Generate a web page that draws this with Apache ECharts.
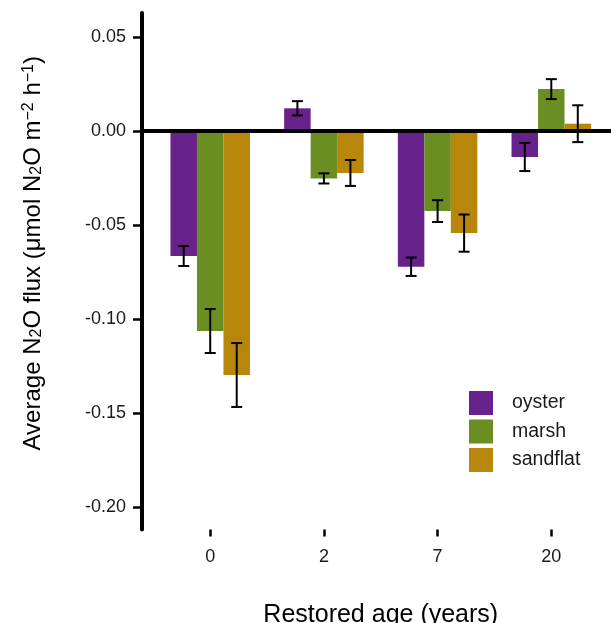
<!DOCTYPE html>
<html>
<head>
<meta charset="utf-8">
<script src="https://cdn.jsdelivr.net/npm/echarts@6/dist/echarts.min.js"></script>
<style>
html,body{margin:0;padding:0;background:#fff;}
#chart{width:611px;height:623px;}
</style>
</head>
<body>
<div id="chart"></div>
<script>
// ---- data ----
const categories = ['0', '2', '7', '20'];
const seriesNames = ['oyster', 'marsh', 'sandflat'];
const oysterMean = [-0.0665, 0.0121, -0.0722, -0.0138];
const oysterSE = [0.0053, 0.0038, 0.0049, 0.0075];
const marshMean = [-0.1064, -0.0252, -0.0426, 0.0223];
const marshSE = [0.0117, 0.0027, 0.0058, 0.0053];
const sandflatMean = [-0.1298, -0.0223, -0.0543, 0.0039];
const sandflatSE = [0.0170, 0.0069, 0.0099, 0.0098];
const yTicks = [-0.20, -0.15, -0.10, -0.05, 0.00, 0.05];

const colors = ['#68228B', '#6B8E23', '#B8860B'];
const means = [oysterMean, marshMean, sandflatMean];
const ses = [oysterSE, marshSE, sandflatSE];
const BAR_W = 26.5;
const FONT = "'Liberation Sans', Arial, sans-serif";

const chart = echarts.init(document.getElementById('chart'), null, {renderer: 'canvas'});

const series = [];
seriesNames.forEach((name, k) => {
  series.push({
    name: name,
    type: 'bar',
    xAxisIndex: 0,
    yAxisIndex: 0,
    barWidth: BAR_W,
    barGap: '0%',
    itemStyle: {color: colors[k]},
    data: means[k].map((v, i) => [i, v]),
    z: 2,
    markLine: k === 0 ? {
      silent: true,
      symbol: ['none', 'none'],
      label: {show: false},
      lineStyle: {color: '#000', width: 4, type: 'solid'},
      data: [{yAxis: 0}],
      z: 5
    } : undefined
  });
});
seriesNames.forEach((name, k) => {
  series.push({
    type: 'custom',
    name: name + '_err',
    xAxisIndex: 0,
    yAxisIndex: 0,
    z: 10,
    silent: true,
    data: means[k].map((v, i) => [i, v - ses[k][i], v + ses[k][i]]),
    renderItem: function (params, api) {
      const off = (k - 1) * BAR_W;
      const lo = api.coord([api.value(0), api.value(1)]);
      const hi = api.coord([api.value(0), api.value(2)]);
      const x = lo[0] + off;
      const cap = 5.5;
      const st = {stroke: '#000', lineWidth: 2};
      return {
        type: 'group',
        children: [
          {type: 'line', shape: {x1: x, y1: lo[1], x2: x, y2: hi[1]}, style: st},
          {type: 'line', shape: {x1: x - cap, y1: lo[1], x2: x + cap, y2: lo[1]}, style: st},
          {type: 'line', shape: {x1: x - cap, y1: hi[1], x2: x + cap, y2: hi[1]}, style: st}
        ]
      };
    }
  });
});

const option = {
  animation: false,
  backgroundColor: '#fff',
  textStyle: {fontFamily: FONT},
  grid: {left: 142, right: -8.5, top: 13, bottom: 93.5, containLabel: false, outerBoundsMode: 'none'},
  legend: {
    orient: 'vertical',
    left: 464,
    top: 386,
    data: seriesNames,
    icon: 'rect',
    itemWidth: 24,
    itemHeight: 24,
    itemGap: 4.5,
    textStyle: {fontSize: 19.5, color: '#1a1a1a', fontFamily: FONT, padding: [0, 0, 0, 14]}
  },
  xAxis: [{
    type: 'value',
    min: -0.6,
    max: 3.6,
    position: 'bottom',
    splitLine: {show: false},
    axisLine: {show: false, onZero: false},
    axisTick: {show: true, length: 7, customValues: [0, 1, 2, 3], lineStyle: {color: '#000', width: 2.5}},
    axisLabel: {
      customValues: [0, 1, 2, 3],
      formatter: v => categories[Math.round(v)],
      margin: 19,
      fontSize: 18,
      color: '#1a1a1a',
      fontFamily: FONT
    },
    name: 'Restored age (years)',
    nameLocation: 'middle',
    nameGap: 73,
    nameTextStyle: {fontSize: 25, color: '#000', fontFamily: FONT}
  }],
  yAxis: [{
    type: 'value',
    min: -0.212,
    max: 0.0628,
    splitLine: {show: false},
    axisLine: {show: true, onZero: false, lineStyle: {color: '#000', width: 4}},
    axisTick: {show: true, length: 9, customValues: yTicks, lineStyle: {color: '#000', width: 2.5}},
    axisLabel: {
      customValues: yTicks,
      formatter: v => v.toFixed(2),
      margin: 16,
      fontSize: 18,
      color: '#1a1a1a',
      fontFamily: FONT
    },
    name: '{n|Average N}{sub|2}{n|O flux (μmol N}{sub|2}{n|O m}{sup|−2}{n| h}{sup|−1}{n|)}',
    nameLocation: 'middle',
    nameRotate: 90,
    nameGap: 97,
    nameTextStyle: {
      fontFamily: FONT,
      color: '#000',
      padding: [0, 0, 0, 36],
      rich: {
        n: {fontSize: 24, lineHeight: 24, color: '#000', fontFamily: FONT},
        sub: {fontSize: 16, lineHeight: 12, verticalAlign: 'bottom', color: '#000', fontFamily: FONT},
        sup: {fontSize: 16, lineHeight: 12, verticalAlign: 'top', color: '#000', fontFamily: FONT}
      }
    }
  }],
  series: series
};
chart.setOption(option);
</script>
</body>
</html>
